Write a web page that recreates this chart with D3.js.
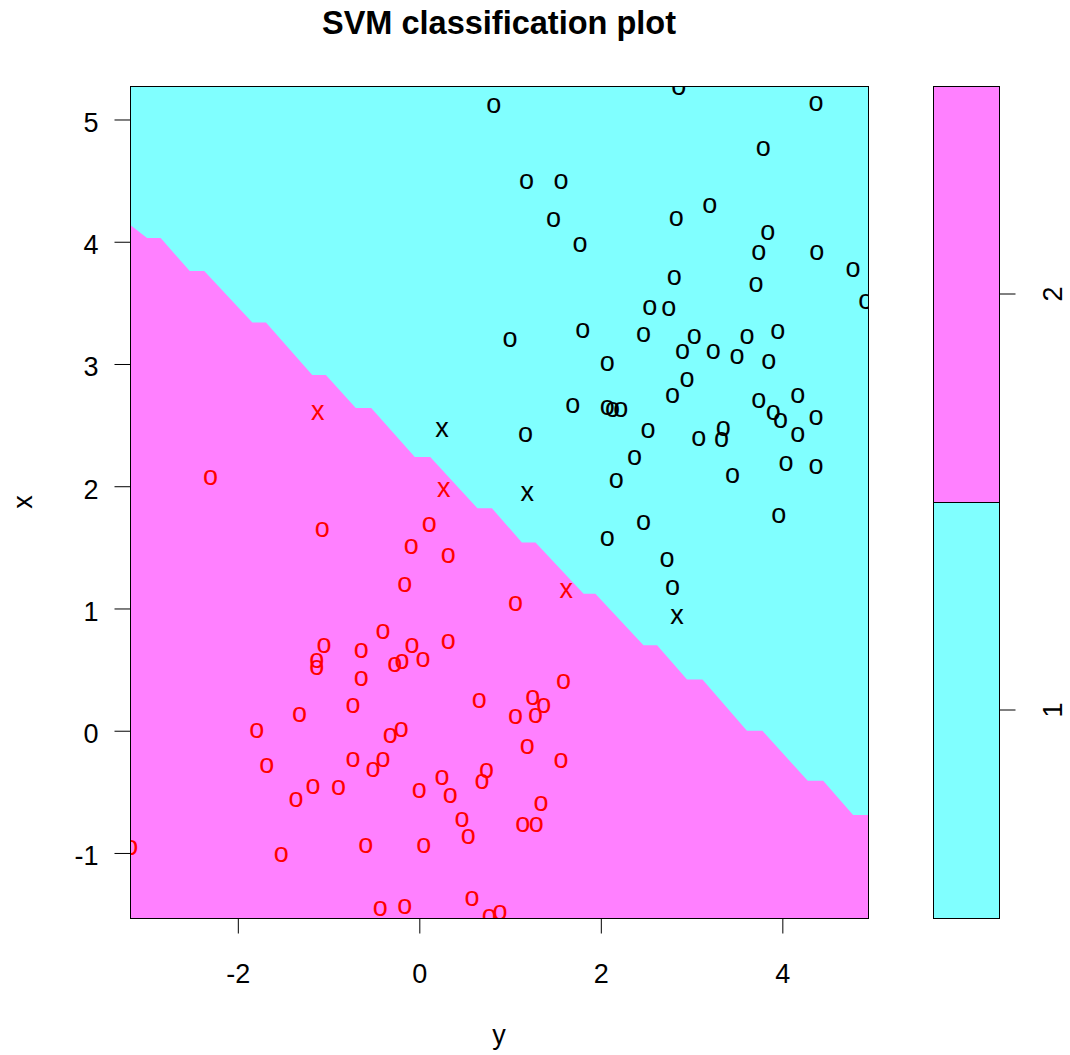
<!DOCTYPE html>
<html>
<head>
<meta charset="utf-8">
<script src="https://cdn.jsdelivr.net/npm/d3@7"></script>
<style>
  body { margin: 0; background: #fff; }
  text { font-family: "Liberation Sans", Arial, sans-serif; }
</style>
</head>
<body>
<div id="chart"></div>
<script>
// decision boundary (staircase), as [y, x]
var boundary = [[-3.19,4.14],[-3.00,4.03],[-2.85,4.03],[-2.53,3.76],[-2.37,3.76],[-1.84,3.34],[-1.69,3.34],
  [-1.18,2.91],[-1.03,2.91],[-0.70,2.64],[-0.53,2.64],[-0.05,2.24],[0.12,2.24],[0.64,1.82],[0.80,1.82],
  [1.13,1.54],[1.28,1.54],[1.81,1.12],[1.94,1.12],[2.47,0.70],[2.62,0.70],[2.95,0.42],[3.12,0.42],
  [3.61,0.00],[3.78,0.00],[4.28,-0.41],[4.45,-0.41],[4.78,-0.69],[4.95,-0.69]];

// class 1, plain points and support vectors
var class1Points = [[2.86,5.26],[0.82,5.11],[4.37,5.13],[3.79,4.76],[1.18,4.49],[1.56,4.49],[3.20,4.29],
  [1.48,4.18],[2.83,4.19],[3.84,4.07],[1.77,3.97],[3.74,3.91],[4.38,3.91],[4.78,3.77],[2.81,3.70],
  [3.71,3.65],[4.92,3.51],[2.54,3.46],[2.75,3.45],[1.00,3.20],[1.80,3.27],[2.47,3.24],[3.03,3.22],
  [3.61,3.22],[3.95,3.26],[2.07,3.00],[2.90,3.10],[3.24,3.10],[3.50,3.06],[3.85,3.02],[2.95,2.87],
  [2.79,2.74],[3.74,2.70],[4.17,2.74],[1.69,2.66],[2.07,2.64],[2.13,2.62],[2.22,2.62],[3.90,2.60],
  [3.98,2.53],[4.37,2.56],[1.17,2.42],[2.52,2.45],[3.08,2.39],[3.35,2.47],[3.33,2.38],[4.17,2.42],
  [2.37,2.23],[2.17,2.04],[3.45,2.08],[4.04,2.18],[4.37,2.16],[2.47,1.70],[3.96,1.76],[2.07,1.57],
  [2.73,1.40],[2.79,1.17]];
var class1SV = [[0.25,2.46],[1.19,1.94],[2.84,0.93]];

// class 2
var class2Points = [[-2.30,2.07],[-1.07,1.64],[0.11,1.68],[-0.09,1.50],[0.32,1.43],[-0.16,1.19],[-0.40,0.81],
  [-1.05,0.69],[-0.64,0.65],[-1.13,0.57],[-1.13,0.51],[-0.08,0.69],[0.32,0.73],[-0.27,0.54],[-0.19,0.56],
  [0.04,0.58],[-0.64,0.42],[-0.73,0.20],[-1.32,0.13],[-1.79,0.00],[-0.20,0.01],[-0.32,-0.04],[-1.68,-0.29],
  [-0.73,-0.24],[-0.40,-0.24],[-0.51,-0.32],[-1.17,-0.46],[-0.89,-0.47],[-1.36,-0.57],[0.00,-0.49],
  [0.25,-0.39],[0.34,-0.53],[-3.18,-0.96],[-1.52,-1.02],[-0.59,-0.94],[0.05,-0.94],[-0.43,-1.46],
  [-0.16,-1.44],[1.06,1.04],[1.59,0.40],[0.66,0.24],[1.25,0.27],[1.37,0.20],[1.28,0.12],[1.06,0.11],
  [1.19,-0.13],[1.56,-0.25],[0.74,-0.33],[0.69,-0.42],[1.34,-0.60],[0.47,-0.73],[0.54,-0.87],
  [1.14,-0.77],[1.29,-0.77],[0.58,-1.38],[0.77,-1.52],[0.89,-1.49]];
var class2SV = [[-1.12,2.60],[0.27,1.97],[1.62,1.14]];

var xTicks = [-2, 0, 2, 4];
var yTicks = [-1, 0, 1, 2, 3, 4, 5];
var levels = ["1", "2"];
var levelColors = ["#80FFFF", "#FF80FF"];

var W = 1070, H = 1055;
var pL = 130, pR = 868, pT = 86, pB = 918;

var svg = d3.select("#chart").append("svg")
    .attr("width", W)
    .attr("height", H);

var x = d3.scaleLinear().domain([-3.188, 4.944]).range([pL, pR]);
var y = d3.scaleLinear().domain([-1.532, 5.274]).range([pB, pT]);

svg.append("defs").append("clipPath").attr("id", "plotclip")
  .append("rect")
    .attr("x", pL).attr("y", pT)
    .attr("width", pR - pL).attr("height", pB - pT);

var plot = svg.append("g").attr("clip-path", "url(#plotclip)");

// class 1 region fills everything, class 2 below the boundary
plot.append("rect")
    .attr("x", pL).attr("y", pT)
    .attr("width", pR - pL).attr("height", pB - pT)
    .attr("fill", levelColors[0]);

var region2 = boundary.concat([[x.domain()[1], y.domain()[0]], [x.domain()[0], y.domain()[0]]]);
plot.append("path")
    .attr("d", d3.line().x(d => x(d[0])).y(d => y(d[1]))(region2) + "Z")
    .attr("fill", levelColors[1]);

function glyphs(data, ch, col) {
  plot.selectAll(null).data(data).enter().append("text")
      .attr("x", d => x(d[0]))
      .attr("y", d => y(d[1]))
      .attr("dy", "0.26em")
      .attr("text-anchor", "middle")
      .attr("font-size", 27)
      .attr("fill", col)
      .text(ch);
}
glyphs(class1Points, "o", "#000");
glyphs(class1SV, "x", "#000");
glyphs(class2Points, "o", "#FF0000");
glyphs(class2SV, "x", "#FF0000");

// box
svg.append("rect")
    .attr("x", pL + 0.5).attr("y", pT + 0.5)
    .attr("width", pR - pL).attr("height", pB - pT)
    .attr("fill", "none").attr("stroke", "#000");

// axes
var gx = svg.append("g").attr("transform", "translate(0," + (pB + 0.5) + ")")
    .call(d3.axisBottom(x).tickValues(xTicks).tickSize(15).tickSizeOuter(0).tickFormat(d => String(d)));
gx.select(".domain").remove();
gx.selectAll("text").attr("font-size", 27).attr("fill", "#000")
    .attr("y", 64).attr("dy", 0).attr("font-family", "Liberation Sans, Arial, sans-serif");

var gy = svg.append("g").attr("transform", "translate(" + (pL + 0.5) + ",0)")
    .call(d3.axisLeft(y).tickValues(yTicks).tickSize(16).tickSizeOuter(0).tickFormat(d => String(d)));
gy.select(".domain").remove();
gy.selectAll("text").attr("font-size", 27).attr("fill", "#000")
    .attr("x", -32).attr("dy", 12).attr("font-family", "Liberation Sans, Arial, sans-serif");
svg.selectAll(".tick line").attr("stroke", "#000");

// titles
svg.append("text")
    .attr("x", (pL + pR) / 2).attr("y", 34)
    .attr("text-anchor", "middle")
    .attr("font-size", 32.5).attr("font-weight", "bold")
    .text("SVM classification plot");

svg.append("text")
    .attr("x", (pL + pR) / 2).attr("y", 1044)
    .attr("text-anchor", "middle").attr("font-size", 27)
    .text("y");

svg.append("text")
    .attr("transform", "translate(32," + (pT + pB) / 2 + ") rotate(-90)")
    .attr("text-anchor", "middle").attr("font-size", 27)
    .text("x");

// colour key
var keyL = 933, keyR = 999;
var key = d3.scaleBand().domain(levels).range([pB, pT]);
svg.selectAll(".keycell").data(levels).enter().append("rect")
    .attr("class", "keycell")
    .attr("x", keyL + 0.5)
    .attr("y", d => key(d) + 0.5)
    .attr("width", keyR - keyL)
    .attr("height", key.bandwidth())
    .attr("fill", (d, i) => levelColors[i])
    .attr("stroke", "#000");

var gk = svg.append("g").attr("transform", "translate(" + (keyR + 0.5) + ",0)")
    .call(d3.axisRight(key).tickSize(16).tickSizeOuter(0));
gk.select(".domain").remove();
gk.selectAll(".tick line").attr("stroke", "#000");
gk.selectAll("text").remove();
gk.selectAll(".tick").append("text")
    .attr("transform", "translate(62,0) rotate(-90)")
    .attr("text-anchor", "middle")
    .attr("font-size", 27).attr("fill", "#000")
    .attr("font-family", "Liberation Sans, Arial, sans-serif")
    .text(d => d);
</script>
</body>
</html>
